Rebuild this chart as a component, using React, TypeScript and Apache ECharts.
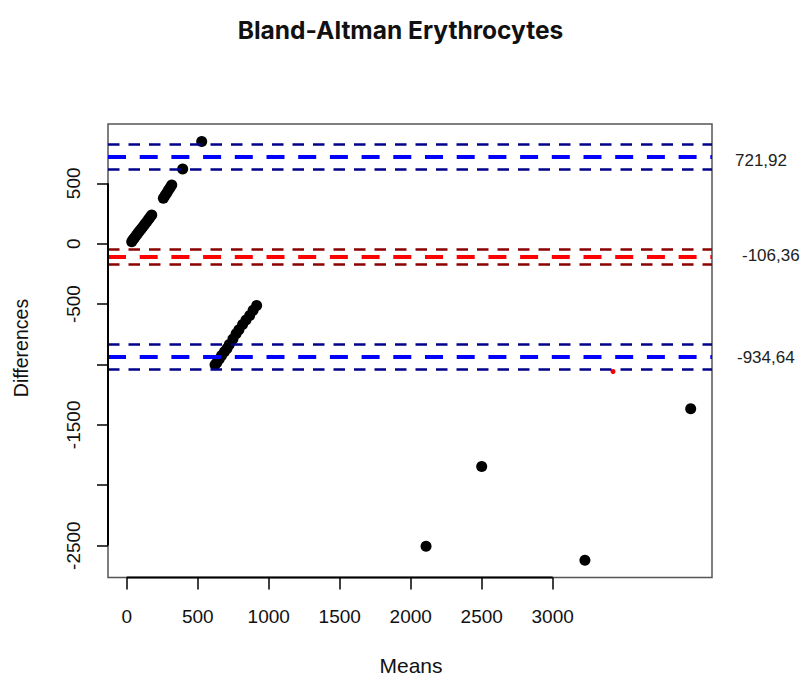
import React, { useEffect, useRef } from "react";
import * as echarts from "echarts";

// Means (x) and differences (y) of the black points
const means = [
  35, 45, 55, 66, 78, 90, 102, 114, 127, 140, 152, 164, 176,
  258, 270, 282, 293, 305, 317,
  394, 528,
  622, 634, 652, 668, 688, 706, 722, 748, 770, 790, 816, 840, 866, 890, 915,
  2108, 2500, 3227, 3972,
];
const diffs = [
  17, 34, 50, 68, 86, 104, 122, 140, 160, 180, 200, 219, 238,
  376, 398, 420, 442, 464, 486,
  619, 846,
  -1003, -985, -955, -925, -895, -868, -835, -790, -745, -712, -670, -632, -595, -552, -512,
  -2505, -1844, -2621, -1366,
];
// Small red point
const redMeans = [3425];
const redDiffs = [-1058];

// Bias and limits of agreement
const limitValues = [721.92, -106.36, -934.64];
const limitLabels = ["721,92", "-106,36", "-934,64"];
const limitColors = ["#0000ff", "#ff0000", "#0000ff"];
// Confidence bounds around each limit
const ciLower = [620, -167, -1036];
const ciUpper = [824, -45, -834];
const ciColors = ["#00008b", "#8b0000", "#00008b"];

const xTicks = [0, 500, 1000, 1500, 2000, 2500, 3000];
const yTicks = [-2500, -2000, -1500, -1000, -500, 0, 500];
const yLabels = [-2500, -1500, -500, 0, 500];

const X_MIN = -132;
const X_MAX = 4122;
const Y_MIN = -2764;
const Y_MAX = 991;

const labelOffsets = [
  { dx: 23, dy: 4.5 },
  { dx: 30, dy: -1.5 },
  { dx: 25, dy: 1 },
];

export default function App() {
  const ref = useRef<HTMLDivElement>(null);
  useEffect(() => {
    if (!ref.current) return;
    const chart = echarts.init(ref.current, undefined, { renderer: "svg" });
    const font = "'Liberation Sans', Arial, sans-serif";
    const markData: any[] = [];
    limitValues.forEach((v, i) => {
      markData.push({
        yAxis: ciLower[i],
        lineStyle: { color: ciColors[i], width: 2.5, type: [11.5, 9] },
      });
      markData.push({
        yAxis: ciUpper[i],
        lineStyle: { color: ciColors[i], width: 2.5, type: [11.5, 9] },
      });
      markData.push({
        yAxis: v,
        lineStyle: { color: limitColors[i], width: 4, type: [18, 13.7] },
      });
    });
    chart.setOption({
      animation: false,
      title: {
        text: "Bland-Altman Erythrocytes",
        left: "center",
        top: 12,
        textStyle: {
          fontFamily: "Inter, 'Noto Sans', sans-serif",
          fontWeight: 700,
          fontSize: 24.5,
          color: "#111",
        },
      },
      grid: {
        left: 108,
        right: 89,
        top: 124,
        bottom: 99.5,
        show: true,
        borderColor: "#555",
        borderWidth: 1.5,
        backgroundColor: "#fff",
      },
      xAxis: {
        type: "value",
        min: X_MIN,
        max: X_MAX,
        axisLine: { show: false, onZero: false },
        splitLine: { show: false },
        axisTick: {
          show: true,
          customValues: xTicks,
          length: 12,
          inside: false,
          lineStyle: { color: "#000", width: 1.5 },
        },
        axisLabel: {
          customValues: xTicks,
          formatter: (v: number) => String(v),
          margin: 29,
          fontSize: 19,
          fontFamily: font,
          color: "#111",
        },
      },
      yAxis: {
        type: "value",
        min: Y_MIN,
        max: Y_MAX,
        axisLine: { show: false, onZero: false },
        splitLine: { show: false },
        axisTick: {
          show: true,
          customValues: yTicks,
          length: 11,
          inside: false,
          lineStyle: { color: "#000", width: 1.5 },
        },
        axisLabel: {
          customValues: yLabels,
          formatter: (v: number) => String(v),
          rotate: 90,
          margin: 25,
          fontSize: 19,
          fontFamily: font,
          color: "#111",
        },
      },
      series: [
        {
          type: "scatter",
          data: means.map((m, i) => [m, diffs[i]]),
          symbol: "circle",
          symbolSize: 11,
          itemStyle: { color: "#000", opacity: 1 },
          z: 2,
          silent: true,
        },
        {
          type: "scatter",
          data: redMeans.map((m, i) => [m, redDiffs[i]]),
          symbol: "circle",
          symbolSize: 5,
          itemStyle: { color: "#ff0000", opacity: 1 },
          z: 4,
          silent: true,
        },
        {
          type: "line",
          data: [],
          z: 3,
          silent: true,
          markLine: {
            symbol: "none",
            silent: true,
            label: { show: false },
            data: markData,
          },
        },
        {
          type: "line",
          data: [
            [xTicks[0], Y_MIN],
            [xTicks[xTicks.length - 1], Y_MIN],
          ],
          symbol: "none",
          clip: false,
          lineStyle: { color: "#000", width: 2 },
          z: 5,
          silent: true,
        },
        {
          type: "line",
          data: [
            [X_MIN, yTicks[0]],
            [X_MIN, yTicks[yTicks.length - 1]],
          ],
          symbol: "none",
          clip: false,
          lineStyle: { color: "#000", width: 2 },
          z: 5,
          silent: true,
        },
      ],
    });
    const rightX = chart.convertToPixel({ xAxisIndex: 0 }, X_MAX) as number;
    const graphics: any[] = limitValues.map((v, i) => {
      const y = chart.convertToPixel({ yAxisIndex: 0 }, v) as number;
      return {
        type: "text",
        x: rightX + labelOffsets[i].dx,
        y: y + labelOffsets[i].dy,
        style: {
          text: limitLabels[i],
          fontSize: 17,
          fontFamily: font,
          fill: "#222",
          align: "left",
          verticalAlign: "middle",
        },
      };
    });
    graphics.push({
      type: "text",
      x: 411,
      y: 665,
      style: {
        text: "Means",
        fontSize: 21,
        fontFamily: font,
        fill: "#111",
        align: "center",
        verticalAlign: "middle",
      },
    });
    graphics.push({
      type: "text",
      x: 21,
      y: 348,
      rotation: Math.PI / 2,
      style: {
        text: "Differences",
        fontSize: 19.5,
        fontFamily: font,
        fill: "#111",
        align: "center",
        verticalAlign: "middle",
      },
    });
    chart.setOption({ graphic: graphics });
    return () => chart.dispose();
  }, []);
  return (
    <div
      ref={ref}
      style={{ position: "fixed", left: 0, top: 0, width: 801, height: 677, background: "#fff" }}
    />
  );
}
